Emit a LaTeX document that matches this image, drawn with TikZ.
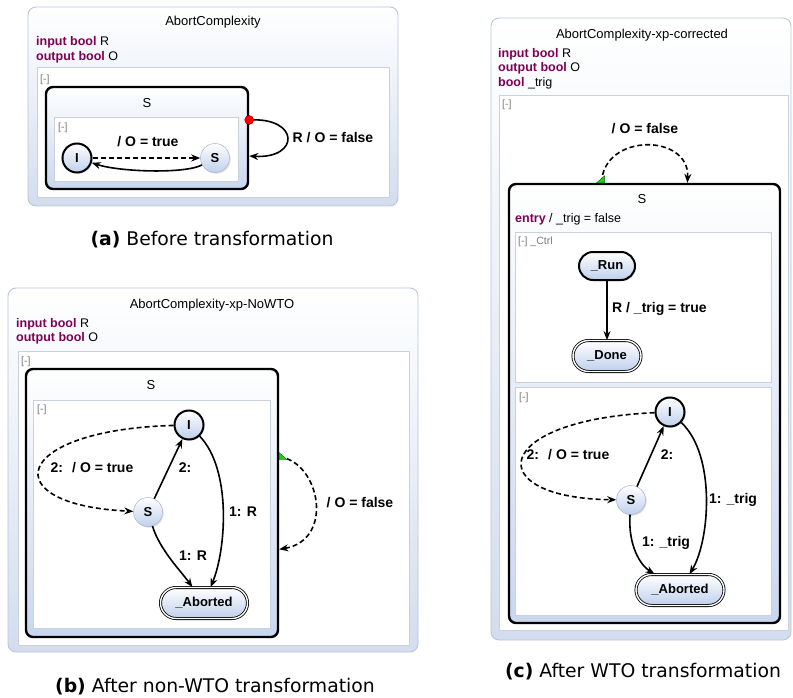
\documentclass[tikz,border=0pt]{standalone}
\usepackage{fontspec}
\setmainfont{Liberation Sans}
\newfontfamily\capfont{DejaVu Sans}
\usetikzlibrary{positioning, arrows.meta, shapes.misc, shadows}
\definecolor{kwpurple}{HTML}{7F0055}
\definecolor{panelblue}{HTML}{D3DDEE}
\definecolor{panelline}{HTML}{B9C5D9}
\definecolor{stateblue}{HTML}{BFD0EC}
\definecolor{stategray}{HTML}{A9B6CC}
\definecolor{regionline}{HTML}{C9D1DD}
\definecolor{foldgray}{HTML}{7A7A7A}
\definecolor{trigreen}{HTML}{22CC22}
\newcommand{\kw}[1]{\textcolor{kwpurple}{\bfseries #1}}

\tikzset{
  panel/.style={draw=panelline, line width=0.9pt, rounded corners=8pt, top color=white, bottom color=panelblue},
  region/.style={draw=regionline, line width=1pt, fill=white},
  superstate/.style={draw=black, line width=2.4pt, rounded corners=7pt, top color=white, bottom color=stateblue!85, inner sep=0pt},
  title/.style={inner sep=0pt, font=\fontsize{13}{15}\selectfont},
  decl/.style={anchor=west, inner sep=0pt, font=\fontsize{12.5}{15}\selectfont},
  fold/.style={anchor=west, inner sep=0pt, text=foldgray, font=\fontsize{10.5}{12}\selectfont},
  lbl/.style={inner sep=0pt, font=\bfseries\fontsize{14}{16}\selectfont},
  simple/.style={circle, minimum size=29pt, inner sep=0pt, top color=white, bottom color=stateblue, draw=stategray, line width=0.5pt,
    font=\bfseries\fontsize{13}{15}\selectfont, drop shadow={opacity=0.25, shadow xshift=1.2pt, shadow yshift=-1.2pt}},
  initial/.style={simple, draw=black, line width=2pt},
  final/.style={rounded rectangle, minimum height=31pt, inner sep=0pt, top color=white, bottom color=stateblue, draw=black,
    line width=0.8pt, double=white, double distance=1.4pt, font=\bfseries\fontsize{13}{15}\selectfont,
    drop shadow={opacity=0.25, shadow xshift=1.2pt, shadow yshift=-1.2pt}},
  running/.style={rounded rectangle, minimum height=28pt, minimum width=56pt, inner sep=0pt, top color=white, bottom color=stateblue,
    draw=black, line width=2pt, font=\bfseries\fontsize{13}{15}\selectfont,
    drop shadow={opacity=0.25, shadow xshift=1.2pt, shadow yshift=-1.2pt}},
  trans/.style={-{Stealth[length=9pt, width=7pt]}, line width=1.6pt},
  dashtrans/.style={dash pattern=on 5pt off 3pt},
  abortdot/.style={circle, fill=red, draw=red!60!black, line width=0.5pt, minimum size=9pt, inner sep=0pt},
  caption/.style={inner sep=0pt, font=\capfont\fontsize{18.8}{22}\selectfont}
}

\begin{document}
\begin{tikzpicture}[x=1pt, y=-1pt]
\useasboundingbox (0,0) rectangle (793,698);

% (a) before transformation
\draw[panel] (28,7) rectangle (398,206);
\node[title] (titleA) at (213,22) {AbortComplexity};
\node[decl] (inA) at (36,42) {\kw{input bool} R};
\node[decl] (outA) at (36,57) {\kw{output bool} O};
\draw[region] (37,68) rectangle (389,198);
\node[fold] (foldA) at (40,80) {[-]};
\node[superstate, minimum width=202pt, minimum height=102pt] (superA) at (147,138) {};
\node[title] (nameA) at (147,103) {S};
\draw[region] (54,118) rectangle (238,182);
\node[fold] (foldAi) at (58,128) {[-]};
\node[initial] (iA) at (77,158) {I};
\node[simple] (sA) at (215,158) {S};
\draw[trans, dashtrans] (iA) -- (sA);
\draw[trans] (sA) .. controls (185,174) and (120,172) .. (iA);
\node[lbl] (lblA1) at (148,142) {/ O = true};
\draw[trans] (superA.10.6) .. controls (300,117) and (300,159) .. (superA.-10.6);
\node[abortdot] (dotA) at (superA.10.6) {};
\node[lbl] (lblA2) at (333,138) {R / O = false};
\node[caption] (capA) at (212,240) {\textbf{(a)} Before transformation};

% (b) after non-WTO transformation
\draw[panel] (8,288) rectangle (418,652);
\node[title] (titleB) at (212,305) {AbortComplexity-xp-NoWTO};
\node[decl] (inB) at (16,324) {\kw{input bool} R};
\node[decl] (outB) at (16,338) {\kw{output bool} O};
\draw[region] (18,351) rectangle (409,645);
\node[fold] (foldB) at (21,362) {[-]};
\node[superstate, minimum width=252pt, minimum height=268pt] (superB) at (152,503) {};
\node[title] (nameB) at (151,385) {S};
\draw[region] (33,400) rectangle (270,628);
\node[fold] (foldBi) at (37,410) {[-]};
\node[initial] (iB) at (189,425) {I};
\node[simple] (sB) at (148,512) {S};
\node[final, minimum width=87pt] (abB) at (204,603) {\_Aborted};
\draw[trans, dashtrans] (iB) .. controls (10,430) and (-6,505) .. (sB);
\draw[trans] (sB) -- (iB);
\draw[trans] (iB) .. controls (232,470) and (226,550) .. (abB);
\draw[trans] (sB) .. controls (160,550) and (180,570) .. (abB);
\node[lbl] (lblB1) at (92,468) {2:~ / O = true};
\node[lbl] (lblB2) at (185,468) {2:};
\node[lbl] (lblB3) at (243,512) {1: R};
\node[lbl] (lblB4) at (193,556) {1: R};
\draw[trans, dashtrans] (superB.20.5) .. controls (320,462) and (335,540) .. (superB.-20);
\fill[trigreen, draw=green!45!black, line width=0.4pt] ([yshift=4pt]superB.20.5) -- ++(8,7) -- ++(-8,0) -- cycle;
\node[lbl] (lblB5) at (360,503) {/ O = false};
\node[caption] (capB) at (215,687) {\textbf{(b)} After non-WTO transformation};

% (c) after WTO transformation
\draw[panel] (491,18) rectangle (791,640);
\node[title] (titleC) at (642,35) {AbortComplexity-xp-corrected};
\node[decl] (inC) at (498,54) {\kw{input bool} R};
\node[decl] (outC) at (498,68) {\kw{output bool} O};
\node[decl] (trigC) at (498,83) {\kw{bool} \_trig};
\draw[region] (499,96) rectangle (788,630);
\node[fold] (foldC) at (502,105) {[-]};
\node[lbl] (lblC0) at (645,129) {/ O = false};
\node[superstate, minimum width=271pt, minimum height=439pt] (superC) at (644.5,403.5) {};
\draw[trans, dashtrans] (superC.101.2) .. controls (603,133) and (690,133) .. (superC.79.5);
\fill[trigreen, draw=green!45!black, line width=0.4pt] ([xshift=-5pt]superC.101.2) -- ++(8,-7) -- ++(0,7) -- cycle;
\node[title] (nameC) at (642,199) {S};
\node[decl] (entryC) at (515,219) {\kw{entry} / \_trig = false};
\draw[region] (515,232) rectangle (771,382);
\node[fold] (foldCa) at (518,242) {[-] \_Ctrl};
\node[running] (runC) at (607,266) {\_Run};
\node[final, minimum width=68pt] (doneC) at (607,356) {\_Done};
\draw[trans] (runC) -- (doneC);
\node[lbl, anchor=west] (lblC1) at (612,309) {R / \_trig = true};
\draw[region] (515,387) rectangle (771,615);
\node[fold] (foldCb) at (519,398) {[-]};
\node[initial] (iC) at (670,412) {I};
\node[simple] (sC) at (631,500) {S};
\node[final, minimum width=88pt] (abC) at (680,590) {\_Aborted};
\draw[trans, dashtrans] (iC) .. controls (490,420) and (480,498) .. (sC);
\draw[trans] (sC) -- (iC);
\draw[trans] (iC) .. controls (716,455) and (710,540) .. (abC);
\draw[trans] (sC) .. controls (628,545) and (640,565) .. (abC);
\node[lbl] (lblC2) at (568,455) {2:~ / O = true};
\node[lbl] (lblC3) at (667,455) {2:};
\node[lbl] (lblC4) at (733,500) {1: \_trig};
\node[lbl] (lblC5) at (666,543) {1: \_trig};
\node[caption] (capC) at (643,672) {\textbf{(c)} After WTO transformation};
\end{tikzpicture}
\end{document}
